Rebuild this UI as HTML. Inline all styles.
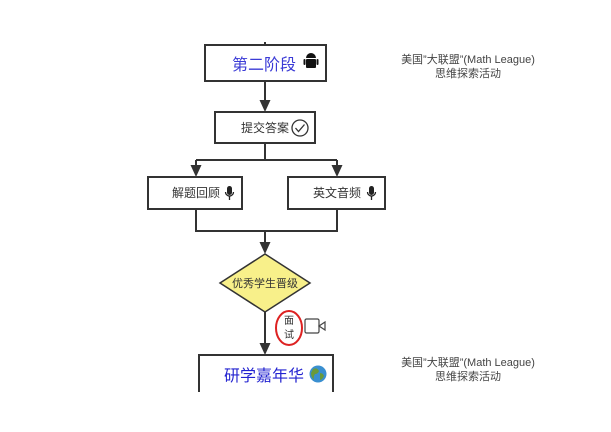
<!DOCTYPE html>
<html><head><meta charset="utf-8"><style>
body{margin:0;background:#fff;}
svg text{font-family:"Liberation Sans","Noto Sans CJK SC",sans-serif;}
</style></head><body>
<svg width="611" height="427" viewBox="0 0 611 427" xmlns="http://www.w3.org/2000/svg">
<g stroke="#333" stroke-width="2" fill="none">
<line x1="265" y1="42" x2="265" y2="45"/>
<line x1="265" y1="81" x2="265" y2="102"/>
<line x1="265" y1="143" x2="265" y2="160"/>
<line x1="196" y1="160" x2="337" y2="160"/>
<line x1="196" y1="160" x2="196" y2="168"/>
<line x1="337" y1="160" x2="337" y2="168"/>
<polyline points="196,209 196,231 337,231 337,209"/>
<line x1="265" y1="231" x2="265" y2="245"/>
<line x1="265" y1="312" x2="265" y2="344"/>
</g>
<g fill="#333">
<polygon points="259.5,100 270.5,100 265,112"/>
<polygon points="190.5,165 201.5,165 196,177"/>
<polygon points="331.5,165 342.5,165 337,177"/>
<polygon points="259.5,242 270.5,242 265,254"/>
<polygon points="259.5,343 270.5,343 265,355"/>
</g>
<rect x="205" y="45" width="121" height="36" fill="#fff" stroke="#333" stroke-width="2"/>
<text x="232" y="70" font-size="16" fill="#3b3bd6">第二阶段</text>
<g fill="#111"><rect x="306" y="59" width="10" height="9" rx="1"/><path d="M306,58 a5,5 0 0 1 10,0 z"/><rect x="303.5" y="59" width="2" height="6" rx="1"/><rect x="316.5" y="59" width="2" height="6" rx="1"/></g>
<rect x="215" y="112" width="100" height="31" fill="#fff" stroke="#333" stroke-width="2"/>
<text x="241" y="132" font-size="12" fill="#333">提交答案</text>
<circle cx="300" cy="128" r="8" fill="none" stroke="#333" stroke-width="1.3"/>
<path d="M295.5,128 l3,3.5 l6,-7" fill="none" stroke="#333" stroke-width="1.3"/>
<rect x="148" y="177" width="94" height="32" fill="#fff" stroke="#333" stroke-width="2"/>
<text x="172" y="197" font-size="12" fill="#333">解题回顾</text>
<rect x="288" y="177" width="97" height="32" fill="#fff" stroke="#333" stroke-width="2"/>
<text x="313" y="197" font-size="12" fill="#333">英文音频</text>
<g fill="#222" stroke="#222"><rect x="227" y="186" width="5" height="9" rx="2.5" stroke="none"/><path d="M225.5,192 a4,4 0 0 0 8,0" fill="none" stroke-width="1.3"/><line x1="229.5" y1="196" x2="229.5" y2="200" stroke-width="1.3"/>
<rect x="369" y="186" width="5" height="9" rx="2.5" stroke="none"/><path d="M367.5,192 a4,4 0 0 0 8,0" fill="none" stroke-width="1.3"/><line x1="371.5" y1="196" x2="371.5" y2="200" stroke-width="1.3"/></g>
<polygon points="265,254 310,283 265,312 220,283" fill="#f8f08a" stroke="#333" stroke-width="1.5"/>
<text x="265" y="287" font-size="11" fill="#333" text-anchor="middle">优秀学生晋级</text>
<ellipse cx="289" cy="328" rx="13" ry="17" fill="#fff" stroke="#d22" stroke-width="2"/>
<text x="289" y="324" font-size="10" fill="#333" text-anchor="middle">面</text>
<text x="289" y="338" font-size="10" fill="#333" text-anchor="middle">试</text>
<rect x="305" y="319" width="14" height="14" rx="1.5" fill="#fff" stroke="#444" stroke-width="1.2"/>
<path d="M319,326 l6,-4 v8 z" fill="#fff" stroke="#444" stroke-width="1.2"/>
<rect x="199" y="355" width="134" height="38" fill="#fff" stroke="#333" stroke-width="2"/>
<text x="224" y="381" font-size="16" fill="#2323d0">研学嘉年华</text>
<circle cx="318" cy="374" r="8.5" fill="#3a8fd0"/>
<path d="M313,369 q4,-2 6,2 q-1,3 -4,3 q-2,3 -1,6 q-3,-3 -3,-7 z M320,373 q3,0 4,3 q-2,4 -4,4 z" fill="#6a9a3a"/>
<rect x="0" y="392" width="611" height="35" fill="#fff"/>
<g font-size="11" fill="#444" text-anchor="middle">
<text x="468" y="63">美国”大联盟”(Math League)</text>
<text x="468" y="77">思维探索活动</text>
<text x="468" y="366">美国”大联盟”(Math League)</text>
<text x="468" y="380">思维探索活动</text>
</g>
</svg>
</body></html>
